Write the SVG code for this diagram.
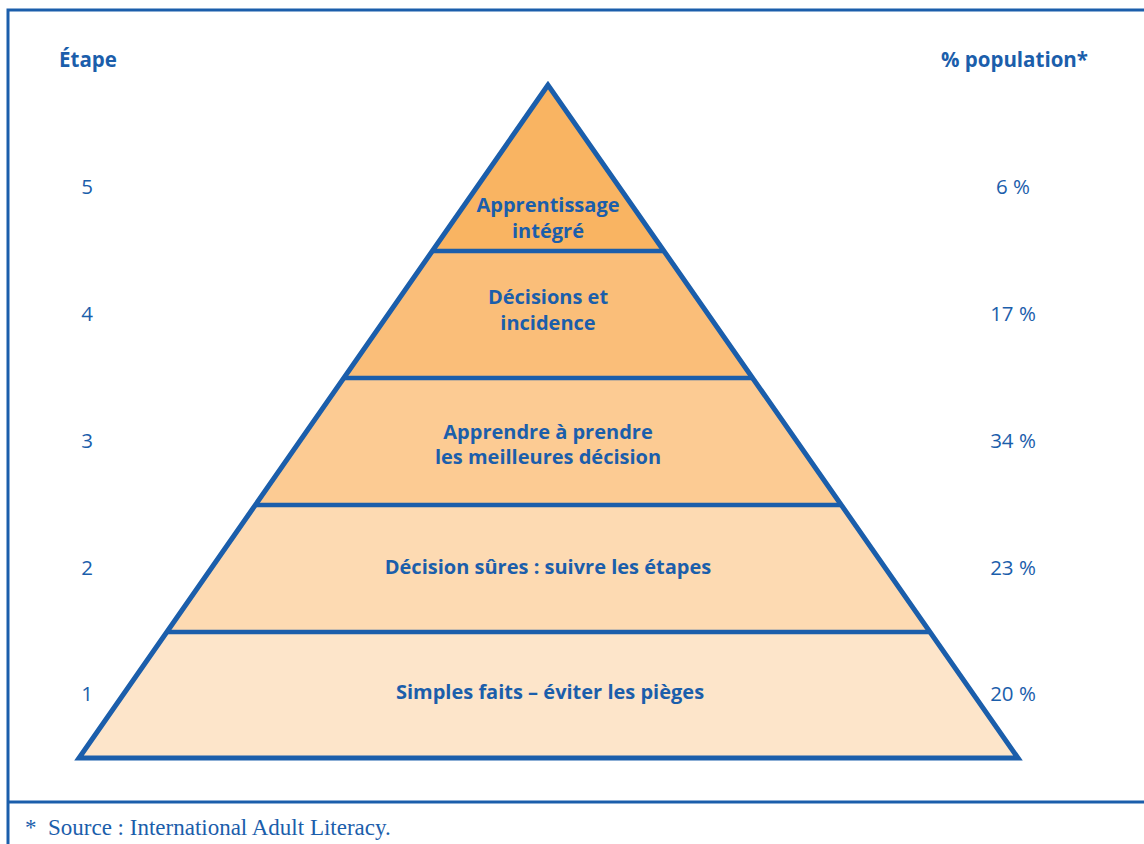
<svg xmlns="http://www.w3.org/2000/svg" width="1144" height="844" viewBox="0 0 1144 844">
<style>
.t{font-family:"Open Sans","Noto Sans","Liberation Sans",sans-serif;fill:#1B5EAB;font-size:20px}
.b{font-weight:700}
.n{font-size:20.5px;font-weight:500}
.c{text-anchor:middle}
.ln{stroke:#1B5EAB;fill:none}
</style>
<rect width="1144" height="844" fill="#fff"/>
<g id="frame">
<path class="ln" d="M8,844 V10 H1144" stroke-width="3"/>
<line class="ln" x1="8" y1="802" x2="1144" y2="802" stroke-width="3"/>
</g>
<g id="headers">
<text class="t b" x="59" y="67" style="font-size:20.5px">Étape</text>
<text class="t b" x="1088" y="67" text-anchor="end" style="font-size:20.5px">% population*</text>
</g>
<g id="tier5">
<polygon points="548,85 432,251 664,251" fill="#F9B462"/>
<text class="t b c" x="548" y="212">Apprentissage</text>
<text class="t b c" x="548" y="238">intégré</text>
<text class="t n c" x="87" y="194">5</text>
<text class="t n c" x="1013" y="194">6 %</text>
</g>
<g id="tier4">
<polygon points="432,251 664,251 752,378 344,378" fill="#FABE79"/>
<text class="t b c" x="548" y="304">Décisions et</text>
<text class="t b c" x="548" y="330">incidence</text>
<text class="t n c" x="87" y="321">4</text>
<text class="t n c" x="1013" y="321">17 %</text>
</g>
<g id="tier3">
<polygon points="344,378 752,378 840,505 256,505" fill="#FCCB93"/>
<text class="t b c" x="548" y="439">Apprendre à prendre</text>
<text class="t b c" x="548" y="464">les meilleures décision</text>
<text class="t n c" x="87" y="448">3</text>
<text class="t n c" x="1013" y="448">34 %</text>
</g>
<g id="tier2">
<polygon points="256,505 840,505 929,632 167,632" fill="#FDDAB2"/>
<text class="t b c" x="548" y="574">Décision sûres : suivre les étapes</text>
<text class="t n c" x="87" y="575">2</text>
<text class="t n c" x="1013" y="575">23 %</text>
</g>
<g id="tier1">
<polygon points="167,632 929,632 1018,758 79,758" fill="#FDE5CA"/>
<text class="t b c" x="550" y="699">Simples faits – éviter les pièges</text>
<text class="t n c" x="87" y="701">1</text>
<text class="t n c" x="1013" y="701">20 %</text>
</g>
<g id="connectors">
<polygon class="ln" points="548,85 79,758 1018,758" stroke-width="5" stroke-linejoin="miter"/>
<line class="ln" x1="432" y1="251" x2="664" y2="251" stroke-width="4.5"/>
<line class="ln" x1="344" y1="378" x2="752" y2="378" stroke-width="4.5"/>
<line class="ln" x1="256" y1="505" x2="840" y2="505" stroke-width="4.5"/>
<line class="ln" x1="167" y1="632" x2="929" y2="632" stroke-width="4.5"/>
</g>
<g id="footnote">
<text x="25" y="835" font-family="'Liberation Serif',serif" font-size="23" fill="#1B5EAB" xml:space="preserve">*  Source : International Adult Literacy.</text>
</g>
</svg>
